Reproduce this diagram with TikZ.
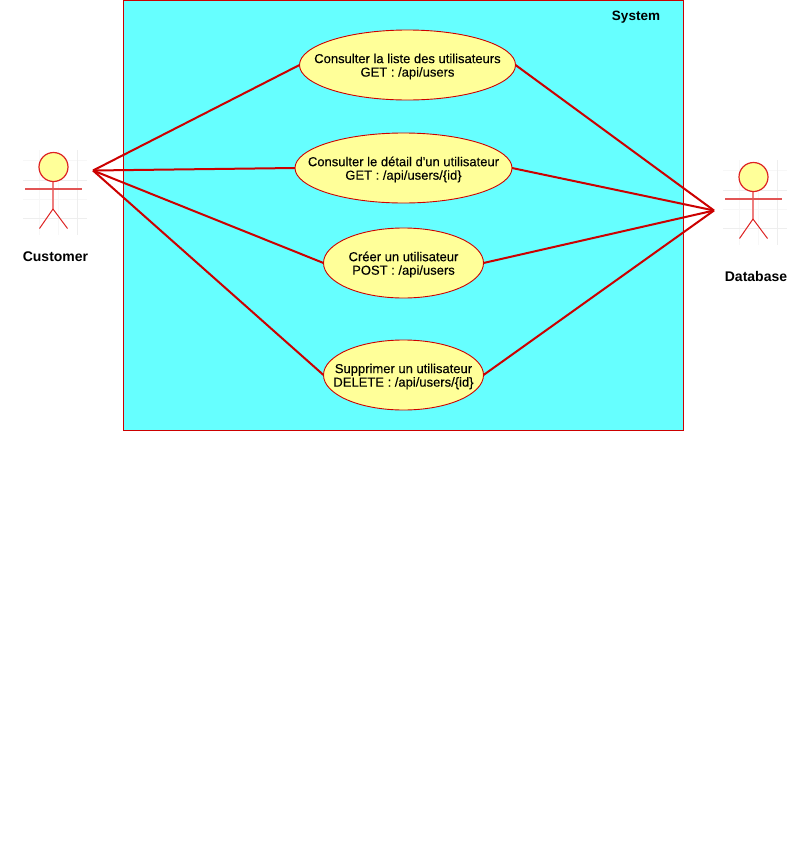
\documentclass[tikz,border=0pt]{standalone}
\usepackage{fontspec}
\setmainfont{Liberation Sans}
\newfontfamily\casefont[FakeBold=0.15]{Liberation Sans}
\usetikzlibrary{shapes.geometric}
\definecolor{umlRed}{HTML}{CC0000}
\definecolor{umlLimb}{HTML}{DD2222}
\definecolor{umlArm}{HTML}{E25555}
\definecolor{umlSpine}{HTML}{EE7F7F}
\definecolor{umlCyan}{HTML}{66FFFF}
\definecolor{umlYellow}{HTML}{FFFF99}
\definecolor{umlGrid}{HTML}{F7F7F7}
\definecolor{umlGridMajor}{HTML}{EEEEEE}
\tikzset{
    EMPTY/.style={inner sep=0mm, outer sep=0mm, minimum size=0mm},
    TITLE/.style={EMPTY, font={\fontsize{14}{16}\selectfont\bfseries}},
    SYSTEM_TITLE/.style={EMPTY, font={\fontsize{13.5}{16}\selectfont\bfseries}},
    BOUNDARY/.style={draw=umlRed, fill=umlCyan, line width=0.8pt, shape=rectangle,
        inner sep=0mm, outer sep=0mm},
    USE_CASE/.style={draw=umlRed, fill=umlYellow, shape=ellipse, inner sep=0mm, outer sep=0mm,
        minimum height=70pt, line width=0.9pt},
    CASE_TEXT/.style={align=center, inner sep=0mm, yshift=-1.5pt, font={\fontsize{13}{13.5}\selectfont\casefont}},
    HEAD/.style={draw=umlLimb, fill=umlYellow, shape=circle, inner sep=0mm, outer sep=0mm,
        minimum size=29pt, line width=1.2pt},
    LIMB/.style={draw=umlLimb, line width=1pt},
    ARM/.style={draw=umlArm, line width=1.6pt},
    SPINE/.style={draw=umlSpine, line width=2pt},
    GRID_LINE/.style={draw=umlGrid, line width=1pt},
    GRID_MAJOR/.style={draw=umlGridMajor, line width=1pt},
    EDGE/.style={draw=umlRed, line width=2pt}
}
\pgfdeclarelayer{edgelayer}
\pgfdeclarelayer{nodelayer}
\pgfsetlayers{main,edgelayer,nodelayer}

\begin{document}
\begin{tikzpicture}[x=1pt, y=-1pt]
    \useasboundingbox (0, 0) rectangle (811, 849);
    \node [BOUNDARY, minimum width=560pt, minimum height=430.5pt, anchor=north west] (system) at (123.5, 0) {};
    % actor backgrounds
    \foreach \ox/\oy in {0/0, 700/10} {
        \begin{scope}[shift={(\ox, \oy)}]
            \foreach \gx in {39.5, 58.5}
                \draw[GRID_LINE] (\gx, 150) -- (\gx, 235);
            \foreach \gy in {160.5, 199.5}
                \draw[GRID_LINE] (23, \gy) -- (87, \gy);
            \draw[GRID_MAJOR] (77.5, 150) -- (77.5, 235);
            \foreach \gy in {180.5, 218.5}
                \draw[GRID_MAJOR] (23, \gy) -- (87, \gy);
        \end{scope}
    }
    \begin{pgfonlayer}{nodelayer}
        \node [SYSTEM_TITLE] (systemlabel) at (636, 17.5) {System};
        \node [USE_CASE, minimum width=216pt, label={[CASE_TEXT]center:{Consulter la liste des utilisateurs\\GET : /api/users}}] (list) at (407.5, 65) {};
        \node [USE_CASE, minimum width=217pt, label={[CASE_TEXT]center:{Consulter le détail d'un utilisateur\\GET : /api/users/\{id\}}}] (detail) at (403.5, 168) {};
        \node [USE_CASE, minimum width=160pt, label={[CASE_TEXT]center:{Créer un utilisateur\\POST : /api/users}}] (create) at (403.5, 263) {};
        \node [USE_CASE, minimum width=160pt, label={[CASE_TEXT]center:{Supprimer un utilisateur\\DELETE : /api/users/\{id\}}}] (delete) at (403.5, 375) {};
        \node [HEAD] (customerhead) at (53.5, 167) {};
        \node [HEAD] (databasehead) at (753.5, 177) {};
        \node [TITLE] (customerlabel) at (55.5, 256.5) {Customer};
        \node [TITLE] (databaselabel) at (756, 276.5) {Database};
        \coordinate (customerhub) at (93, 170.5);
        \coordinate (databasehub) at (714, 210.5);
        \coordinate (customerneck) at (53, 181);
        \coordinate (customerhip) at (53, 209);
        \coordinate (customerfootl) at (39.5, 228.5);
        \coordinate (customerfootr) at (67.5, 228.5);
        \coordinate (customerarml) at (25, 189.25);
        \coordinate (customerarmr) at (82, 189.25);
        \coordinate (databaseneck) at (753, 191);
        \coordinate (databasehip) at (753, 219);
        \coordinate (databasefootl) at (739.5, 238.5);
        \coordinate (databasefootr) at (767.5, 238.5);
        \coordinate (databasearml) at (725, 199.25);
        \coordinate (databasearmr) at (782, 199.25);
    \end{pgfonlayer}
    \begin{pgfonlayer}{edgelayer}
        \draw[SPINE] (customerneck) to (customerhip);
        \draw[ARM] (customerarml) to (customerarmr);
        \draw[LIMB] (customerfootl) to (customerhip);
        \draw[LIMB] (customerhip) to (customerfootr);
        \draw[SPINE] (databaseneck) to (databasehip);
        \draw[ARM] (databasearml) to (databasearmr);
        \draw[LIMB] (databasefootl) to (databasehip);
        \draw[LIMB] (databasehip) to (databasefootr);
        \draw[EDGE] (customerhub) to (list.west);
        \draw[EDGE] (customerhub) to (detail.west);
        \draw[EDGE] (customerhub) to (create.west);
        \draw[EDGE] (customerhub) to (delete.west);
        \draw[EDGE] (list.east) to (databasehub);
        \draw[EDGE] (detail.east) to (databasehub);
        \draw[EDGE] (create.east) to (databasehub);
        \draw[EDGE] (delete.east) to (databasehub);
    \end{pgfonlayer}
\end{tikzpicture}
\end{document}
